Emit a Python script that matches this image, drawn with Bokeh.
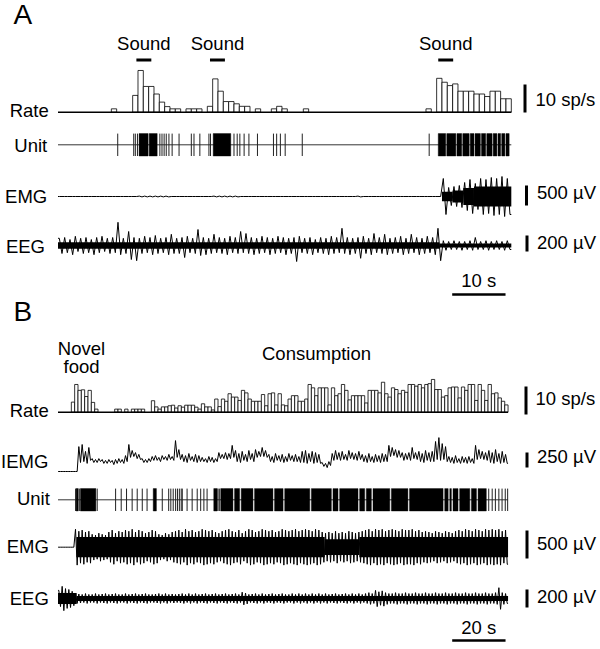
import numpy as np
from bokeh.plotting import figure
from bokeh.models import Range1d
from bokeh.core.properties import value
from bokeh.embed import file_html
from bokeh.resources import INLINE

FONT = value("Liberation Sans")
INK = "#000000"

# ======================= PANEL A DATA (1 s bins, 85 s) =======================
A_BIN = 1.0
rate_a = [0,0,0,0,0,0,0,0,0,0, 1.2,0,0,0,6,14.9,9.2,9.2,6.5,3.6,
          2,1.2,1.2,0,1.2,1.2,1.2,0,2.1,11.9, 7.5,3.8,3.8,3,2.1,2.1,0,1.2,0,0,
          1.2,2.1,1.2,0,0,0,1.2,0,0,0, 0,0,0,0,0,0,0,0,0,0,
          0,0,0,0,0,0,0,0,0,1.2, 0,12.1,10.7,9.5,10.1,7.5,7.5,7.5,6.5,6.5,
          5.6,7.5,7.5,4.8,4.8]
sound_on = [14.7, 28.5, 71.3]
sound_off = [17.5, 31.3, 74.1]

unit_a_spikes = [11.2, 14.2, 14.5, 14.9, 19.1, 19.5, 19.9, 20.3, 20.8, 21.4, 22.7, 25.0, 25.5,
                 26.6, 28.3, 28.6, 33.0, 33.6, 34.1, 34.9, 35.8, 37.4, 40.4, 41.0, 41.7, 42.6,
                 45.8, 69.6]
unit_a_burst_start = [15.2, 17.1, 29.1, 71.3, 72.9, 74.8, 75.9, 77.3, 78.2, 79.4, 80.4, 81.6, 82.5, 83.2, 84.0]
unit_a_burst_end = [16.9, 18.6, 32.4, 72.7, 74.6, 75.7, 77.1, 78.0, 79.2, 80.2, 81.4, 82.3, 83.0, 83.8, 84.6]

# EMG (µV): per-bin peak amplitude, and dense core band
emg_a_amp = [0,0,0,0,0,0,0,0,0,0, 0,0,0,0,0,10,10,10,10,10,
             10,0,0,0,0,0,0,0,0,10, 10,10,10,10,0,0,0,0,0,0,
             0,0,0,0,0,0,0,0,0,0, 0,0,0,0,0,0,10,0,0,0,
             0,0,0,0,0,0,0,0,0,0, 0,0,450,225,250,275,350,425,325,450,
             425,475,450,500,450]
emg_a_core_start = [72.0, 74.0, 76.0, 78.0]
emg_a_core_end = [74.0, 76.0, 78.0, 85.0]
emg_a_core_half = [120, 150, 210, 250]

# EEG (µV): per-bin positive and negative peaks, and core band
eeg_a_hi = [90,100,75,115,90,100,75,100,115,90, 100,290,90,175,100,90,115,100,125,90,
            100,140,90,100,115,90,200,100,90,140, 100,90,115,100,175,150,100,90,115,100,
            90,115,100,90,100,115,90,100,75,100, 90,115,100,215,100,90,100,115,90,150,
            100,140,90,100,115,90,140,100,90,115, 100,215,60,50,60,50,50,60,100,50,
            60,50,60,50,60]
eeg_a_lo = [-100,-90,-115,-75,-100,-90,-115,-90,-75,-100, -90,-115,-100,-175,-190,-100,-90,-115,-100,-90,
            -115,-100,-100,-150,-90,-100,-125,-115,-100,-90, -100,-115,-90,-100,-90,-100,-115,-100,-90,-115,
            -100,-90,-115,-100,-200,-90,-100,-115,-90,-100, -115,-100,-90,-100,-115,-100,-160,-100,-115,-90,
            -100,-115,-100,-90,-115,-100,-90,-115,-100,-90, -115,-190,-60,-50,-50,-60,-50,-60,-50,-50,
            -60,-50,-50,-60,-50]
eeg_a_core_start = [0.0, 71.5]
eeg_a_core_end = [71.5, 85.0]
eeg_a_core_half = [40, 25]

# ======================= PANEL B DATA (1.25 s bins, ~169 s) =======================
B_BIN = 1.25
rate_b = [0,0,0,0,3.6,9.9,7.8,8.0,5.6,7.8, 3.5,1.1,0,0,0,0,0,1.1,1.1,0,
          1.1,0,1.1,1.1,1.1,1.1,0,0,4.1,1.9, 1.1,1.9,1.9,2.3,2.5,1.5,2.3,1.8,2.5,2.5,
          2.5,1.8,1.1,3.0,1.9,1.9,0.8,4.7,2.0,4.7, 3.9,6.6,5.4,5.4,4.2,7.8,6.9,4.7,3.9,3.9,
          3.9,6.3,2.3,6.6,6.9,2.6,6.6,2.6,2.3,4.7, 5.9,5.9,3.9,3.9,4.7,9.9,8.7,5.9,8.7,8.7,
          8.7,2.6,8.7,5.9,6.6,9.9,7.8,4.4,5.9,5.9, 5.9,5.9,3.3,7.8,7.8,7.8,6.9,10.7,6.6,5.4,
          8.7,8.1,6.6,7.8,7.1,9.9,9.9,9.3,9.9,8.7, 9.9,10.2,11.7,8.1,8.1,5.4,5.9,8.7,9.0,9.0,
          5.1,9.0,7.8,9.9,9.9,4.2,9.9,7.8,4.2,9.9, 6.6,6.9,5.1,3.9,2.6]

iemg_b_hi = [0,0,0,0,0,0, 415,450,335,400, 215,200,215, 200,185,200,185,200,215,200,
             265,450,350,315,285, 215,200,215, 250,265,235,265,250,285,250,
             515,365,285,265,300,250,285,265, 235,215,250,235,215, 315,285,315,300,435,
             350,300,335,285,350,300, 365,335,400,350, 285,250,300,265,285,250,300,265,285,250,
             335,350,300,335,315,285, 150,135,165, 300,350,315,335,285,350,315,300,335,
             285,265,300,250,285,265,300,285, 435,400,365,350, 315,300,315,400,315,
             335,300,350,315,335, 500,565,465,415, 250,235,265,215,250,235,250,215,
             435,365,335,315, 350,315,365,300,335,285]
iemg_b_lo = [0,0,0,0,0,0, 150,165,135,185, 150,150,165, 135,135,150,115,135,150,135,
             165,235,250,215,200, 150,150,165, 185,185,165,200,185,200,185,
             235,200,165,150,185,165,150,165, 165,150,165,150,165, 215,215,200,215,235,
             165,150,185,165,200,165, 235,250,250,235, 165,150,185,165,150,165,185,165,165,150,
             150,135,165,135,150,135, 85,65,100, 185,200,185,200,185,215,200,185,200,
             165,150,165,150,165,150,165,165, 250,265,235,235, 185,200,185,215,200,
             165,150,185,165,165, 200,185,200,165, 150,135,150,135,150,135,150,135,
             200,215,200,185, 150,135,165,135,150,135]

unit_b_spikes = [6.6, 8.0, 14.7, 21.6, 23.7, 25.7, 27.8, 29.7, 31.6, 33.4, 39.1, 41.5, 42.3,
                 43.2, 44.1, 44.8, 45.5, 46.2, 46.6, 48.4, 50.3, 52.2, 53.5, 54.7, 55.9, 60.0,
                 60.5, 161.5, 162.8, 164.0, 165.3, 166.5, 167.7, 168.6]
unit_b_burst_start = [6.8, 8.4, 35.7, 58.4, 61.0, 66.2, 68.7, 73.7, 81.2, 85.0, 95.0, 103.1,
                      105.6, 113.1, 115.6, 118.1, 125.0, 131.8, 145.0, 146.9, 148.1, 150.6, 155.0, 157.5]
unit_b_burst_end = [7.6, 14.2, 36.9, 59.7, 65.6, 68.1, 73.1, 80.6, 84.4, 94.4, 102.5, 105.0,
                    112.5, 115.0, 117.5, 124.4, 131.2, 144.4, 146.3, 147.5, 150.0, 154.4, 156.9, 160.6]

emg_b_amp = [0,0,0,0,0, 320,285,305,270,285, 230,215,250,230,215, 270,305,250,285,270,
             305,285,320,270,305, 285,250,270,305,285, 230,215,250,230,270, 285,305,270,320,285,
             305,270,285,320,305, 285,305,270,250,285, 305,320,285,270,305, 250,285,320,305,270,
             285,320,305,285,305, 270,285,320,305,285, 305,320,285,305,320, 305,285,320,305,270,
             250,270,250,285,250, 270,250,285,270,250, 270,285,305,320,285, 320,305,320,285,305,
             320,305,285,320,305, 305,320,285,305,270, 285,270,250,285,270, 250,285,270,250,285,
             305,285,320,305,285, 320,305,285,320,305, 320,305,320,285,305]
emg_b_core_start = [6.9, 100.0, 113.0]
emg_b_core_end = [100.0, 113.0, 168.75]
emg_b_core_half = [180, 140, 180]

eeg_b_amp = [90,135,110,100,80,55, 50,45,55,45, 45,55,45,50,55, 45,50,55,45,45,
             55,45,50,55,45, 50,55,45,45,50, 55,45,55,45,50, 45,50,55,45,55,
             45,55,45,50,55, 45,50,55,45,50, 55,45,50,55,45, 70,60,45,50,55,
             45,55,45,50,55, 45,50,55,45,45, 55,45,55,45,55, 45,55,45,55,45,
             55,45,50,55,45, 50,55,45,55,45, 55,45,55,65,55, 90,75,85,65,55,
             55,65,55,55,65, 55,55,65,55,55, 65,55,55,65,55, 55,65,55,55,65,
             55,55,65,55,55, 65,55,55,65,55, 55,65,120,65,55]
eeg_b_core_start = [0.0, 7.0]
eeg_b_core_end = [7.0, 168.75]
eeg_b_core_half = [60, 28]

# ======================= LAYOUT =======================
X0 = 57.5          # page-pixel position of t = 0
W, H = 600, 649
PXS = {"default": 5.333, "B": 2.667}   # px per second (A: 10 s = 53 px, B: 20 s = 53 px)
BASE_SHIFT = 0.38  # em: compensation so text sits on its alphabetic baseline

p = figure(width=W, height=H,
           x_range=Range1d((0 - X0) / PXS["default"], (W - X0) / PXS["default"]),
           y_range=Range1d(-H, 0),
           output_backend="svg", toolbar_location=None,
           x_axis_location=None, y_axis_location=None, min_border=0)
p.extra_x_ranges = {"B": Range1d((0 - X0) / PXS["B"], (W - X0) / PXS["B"])}
p.grid.visible = False
p.outline_line_color = None
p.background_fill_color = "white"
p.border_fill_color = "white"


def txt(xr, px, py, s, align="left", size=18.5):
    p.text(x=[(px - X0) / PXS[xr]], y=[-(py - BASE_SHIFT * size)], text=[s], text_align=align,
           text_baseline="alphabetic", text_font=FONT, text_font_size=f"{size}px",
           text_color=INK, x_range_name=xr)


def rate_track(xr, rates, binw, base, gain):
    r = np.asarray(rates, float)
    k = np.nonzero(r > 0)[0]
    p.quad(left=k * binw, right=(k + 1) * binw, bottom=-base, top=-base + gain * r[k],
           fill_color="white", line_color=INK, line_width=0.8, x_range_name=xr)
    p.line([0, len(r) * binw], [-base, -base], line_color=INK, line_width=1.4, x_range_name=xr)


def unit_track(xr, spikes, bs, be, t_end, base, half=11.2):
    p.line([0, t_end], [-base, -base], line_color=INK, line_width=0.8, x_range_name=xr)
    p.segment(x0=spikes, y0=-base - half, x1=spikes, y1=-base + half,
              line_color="#222222", line_width=1.0, x_range_name=xr)
    p.quad(left=bs, right=be, bottom=-base - half, top=-base + half,
           fill_color=INK, line_color=INK, line_width=0.4, x_range_name=xr)


def zigzag(hi, lo, binw):
    xs = [0.0]
    ys = [hi[0]]
    for k, (h, l) in enumerate(zip(hi, lo)):
        xs += [(k + 0.25) * binw, (k + 0.75) * binw]
        ys += [h, l]
    xs.append(len(hi) * binw)
    ys.append(lo[-1])
    return np.array(xs), np.array(ys, float)


def noise_track(xr, hi, lo, binw, base, gain, cs=None, ce=None, ch=None, lw=1.0):
    if cs is not None:
        ch = np.asarray(ch, float)
        p.quad(left=cs, right=ce, bottom=-base - gain * ch, top=-base + gain * ch,
               fill_color=INK, line_color=None, x_range_name=xr)
    xs, ys = zigzag(hi, lo, binw)
    p.line(xs, -base + gain * ys, line_color=INK, line_width=lw, x_range_name=xr)


def v_scale(xr, px, bottom_py, amount, gain, lw=3):
    x = (px - X0) / PXS[xr]
    p.line([x, x], [-bottom_py, -bottom_py + gain * amount], line_color=INK, line_width=lw,
           x_range_name=xr)


def h_scale(xr, start_px, py, seconds):
    t0 = (start_px - X0) / PXS[xr]
    p.line([t0, t0 + seconds], [-py, -py], line_color=INK, line_width=2.6, x_range_name=xr)


# gains: px per unit
G_RATE = 2.8
G_EMG_A, G_EEG_A = 0.04, 0.08
G_IEMG_B, G_EMG_B, G_EEG_B = 0.06, 0.056, 0.09

# ---------------- Panel A ----------------
A = "default"
txt(A, 13, 25, "A", size=28)

p.segment(x0=sound_on, x1=sound_off, y0=-59.5, y1=-59.5, line_color=INK, line_width=3)
for on, off in zip(sound_on, sound_off):
    txt(A, X0 + PXS[A] * (on + off) / 2, 50, "Sound", "center")

rate_track(A, rate_a, A_BIN, 111.7, G_RATE)
unit_track(A, unit_a_spikes, unit_a_burst_start, unit_a_burst_end, len(rate_a) * A_BIN, 144.3)
noise_track(A, emg_a_amp, [-a for a in emg_a_amp], A_BIN, 196, G_EMG_A,
            emg_a_core_start, emg_a_core_end, emg_a_core_half)
noise_track(A, eeg_a_hi, eeg_a_lo, A_BIN, 245, G_EEG_A,
            eeg_a_core_start, eeg_a_core_end, eeg_a_core_half)

txt(A, 48.3, 116.7, "Rate", "right")
txt(A, 46.7, 151.7, "Unit", "right")
txt(A, 46.7, 202.7, "EMG", "right")
txt(A, 44.5, 252.7, "EEG", "right")

v_scale(A, 524.5, 112, 10, G_RATE)
v_scale(A, 526, 205, 500, G_EMG_A)
v_scale(A, 526.5, 251, 200, G_EEG_A)
txt(A, 535, 106, "10 sp/s")
txt(A, 536.5, 199.5, "500 \u00b5V")
txt(A, 536.5, 249.5, "200 \u00b5V")

h_scale(A, 451.7, 294, 10)
txt(A, 478.3, 286.7, "10 s", "center")

# ---------------- Panel B ----------------
B = "B"
txt(B, 13, 322, "B", size=28)
txt(B, 81, 355, "Novel", "center")
txt(B, 81, 373, "food", "center")
txt(B, 316, 360, "Consumption", "center")

rate_track(B, rate_b, B_BIN, 411.7, G_RATE)
noise_track(B, iemg_b_hi, iemg_b_lo, B_BIN, 471, G_IEMG_B)
unit_track(B, unit_b_spikes, unit_b_burst_start, unit_b_burst_end, len(rate_b) * B_BIN, 499.3)
noise_track(B, emg_b_amp, [-a for a in emg_b_amp], B_BIN, 546.7, G_EMG_B,
            emg_b_core_start, emg_b_core_end, emg_b_core_half)
noise_track(B, eeg_b_amp, [-a for a in eeg_b_amp], B_BIN, 598, G_EEG_B,
            eeg_b_core_start, eeg_b_core_end, eeg_b_core_half)

txt(B, 48.3, 416.7, "Rate", "right")
txt(B, 47.8, 468, "IEMG", "right")
txt(B, 49.3, 505, "Unit", "right")
txt(B, 48.3, 553, "EMG", "right")
txt(B, 48.3, 605, "EEG", "right")

v_scale(B, 525.5, 414, 10, G_RATE)
v_scale(B, 526.5, 467, 250, G_IEMG_B)
v_scale(B, 526.5, 558, 500, G_EMG_B)
v_scale(B, 526.5, 607, 200, G_EEG_B)
txt(B, 535, 405, "10 sp/s")
txt(B, 536.5, 463.5, "250 \u00b5V")
txt(B, 536.5, 550, "500 \u00b5V")
txt(B, 536.5, 603, "200 \u00b5V")

h_scale(B, 451.7, 640, 20)
txt(B, 478.3, 634, "20 s", "center")

open("out.html", "w").write(file_html(p, INLINE))
